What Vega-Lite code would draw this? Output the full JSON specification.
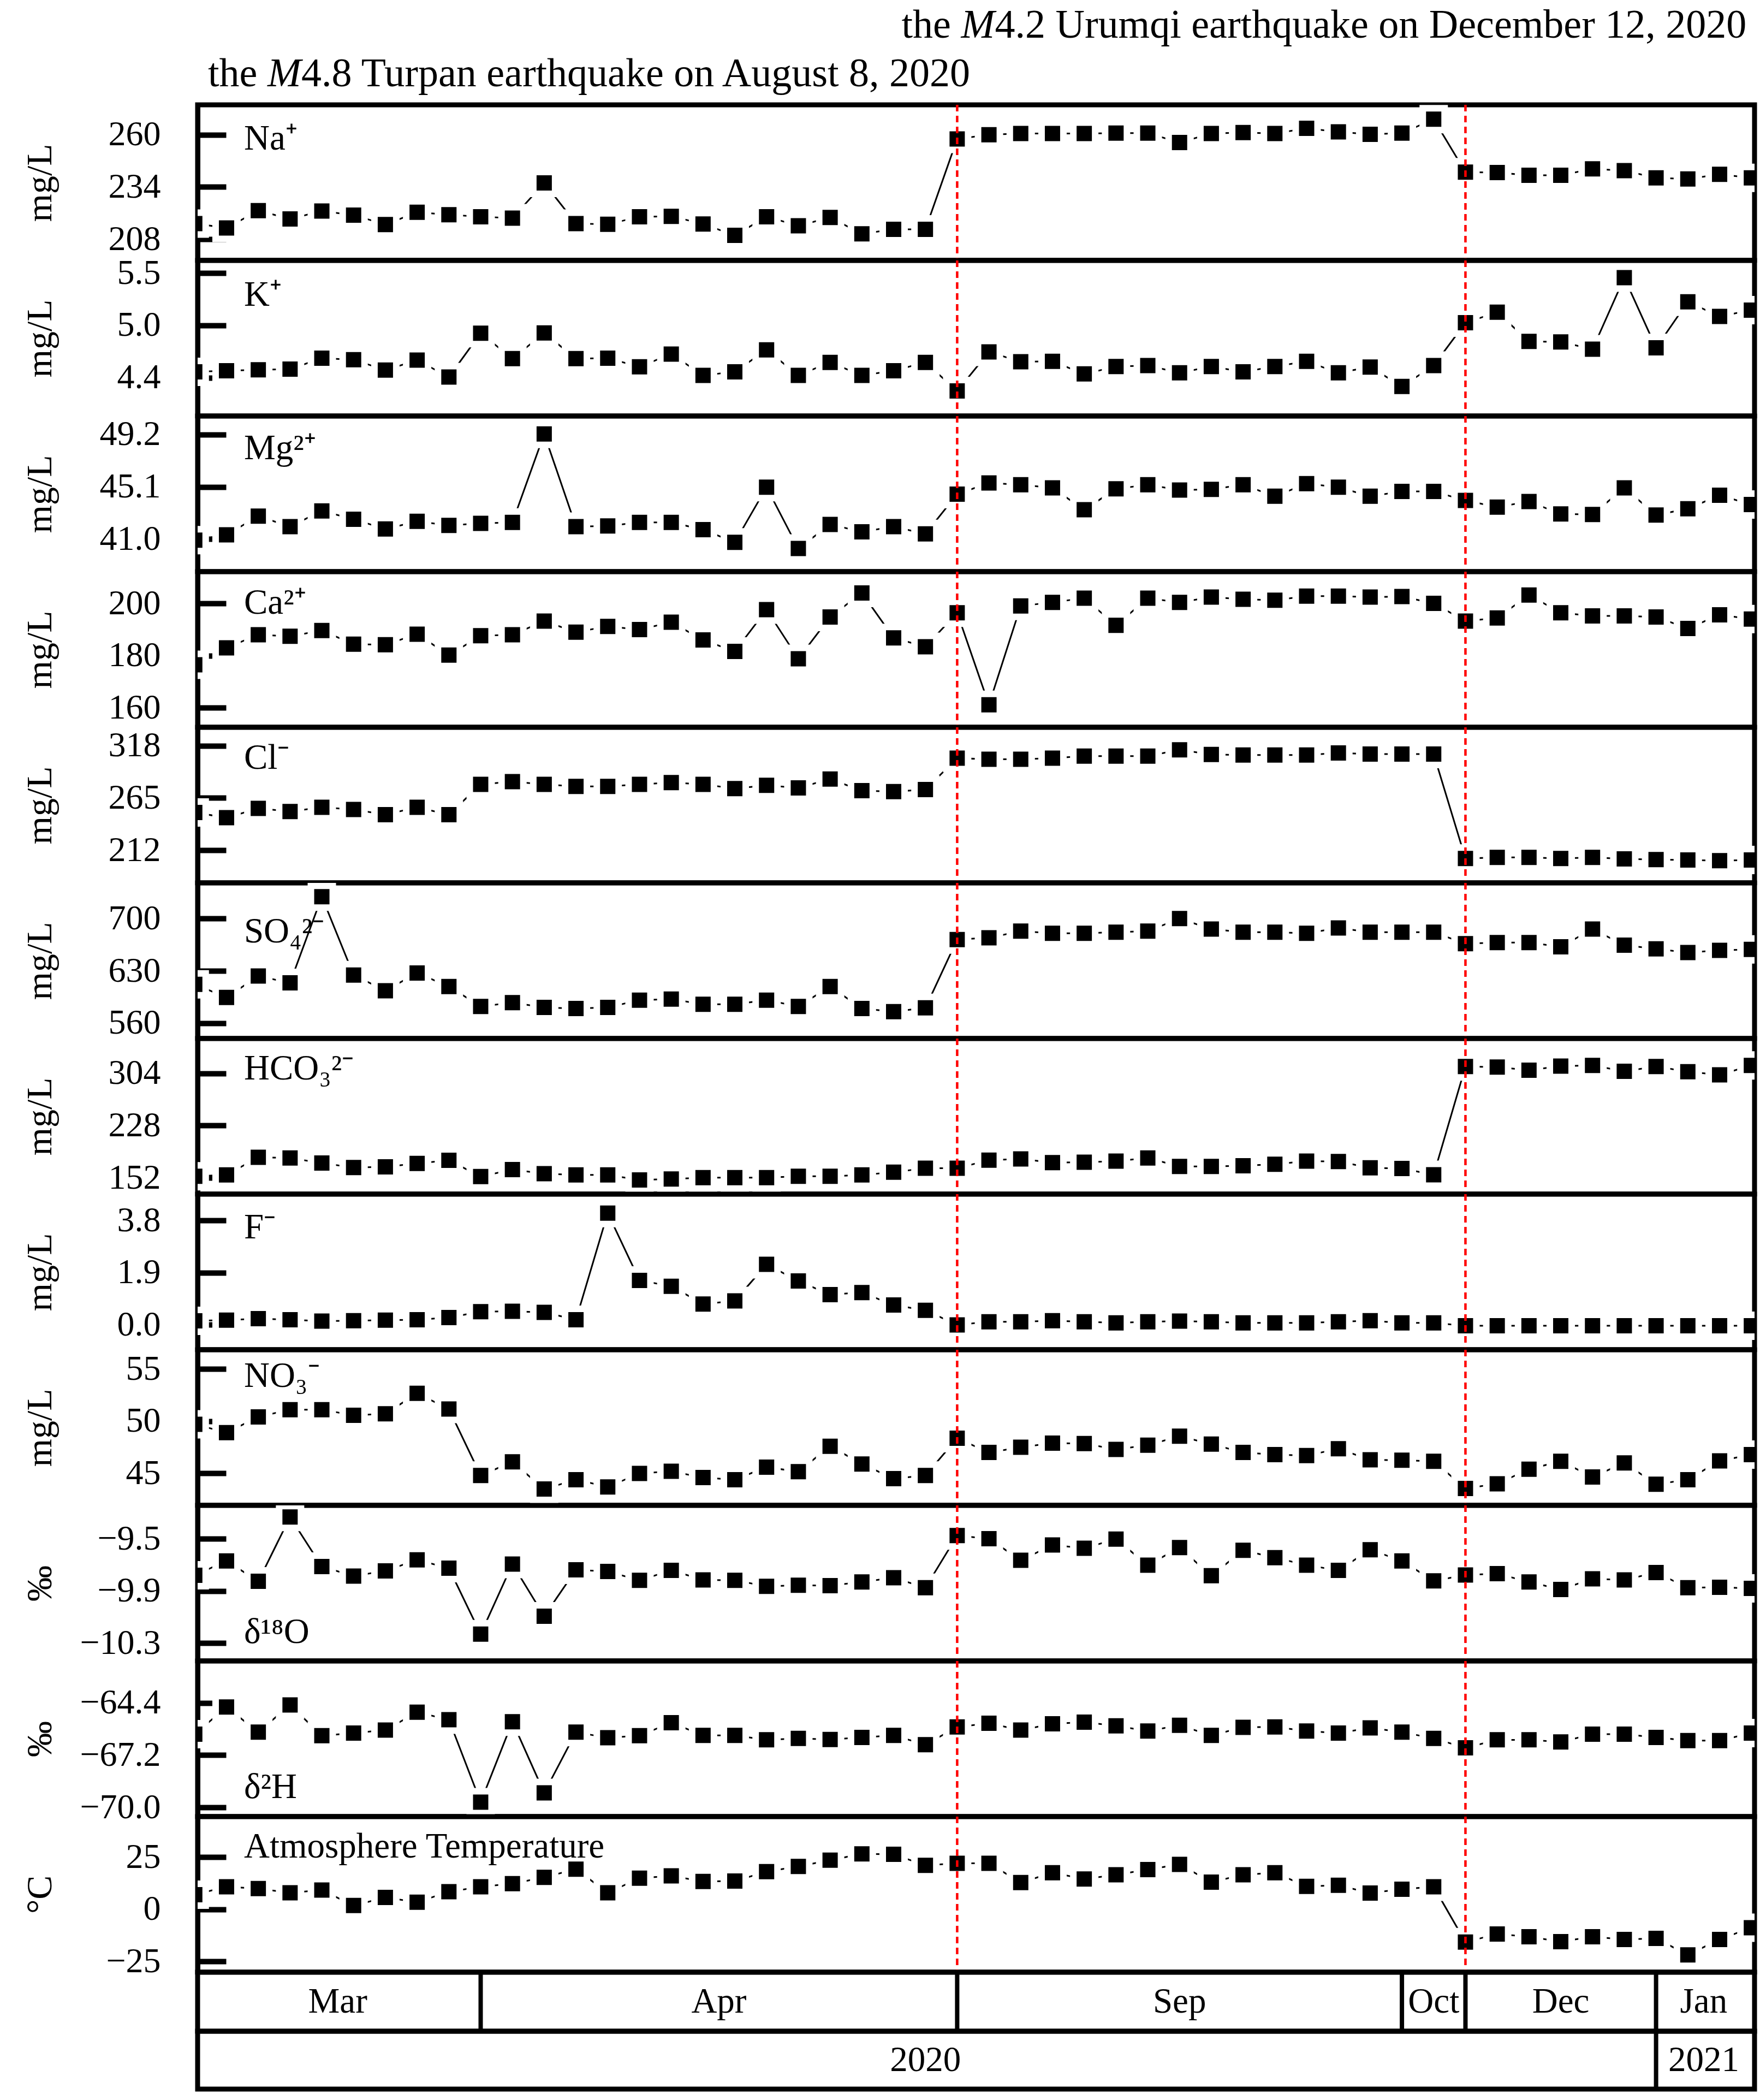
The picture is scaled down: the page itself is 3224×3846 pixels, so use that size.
{
  "$schema": "https://vega.github.io/schema/vega-lite/v6.json",
  "background": "white",
  "padding": {"left": 36, "top": 5, "right": 5, "bottom": 5},
  "spacing": 0,
  "bounds": "flush",
  "config": {
    "view": {"stroke": "black", "strokeWidth": 9},
    "font": "Liberation Serif",
    "text": {"font": "Liberation Serif", "color": "black"},
    "axisY": {
      "labelFont": "Liberation Serif", "labelFontSize": 64, "labelColor": "black",
      "titleFont": "Liberation Serif", "titleFontSize": 66, "titleFontWeight": "normal", "titleColor": "black",
      "tickColor": "black", "tickWidth": 10, "tickSize": -52, "labelPadding": 120,
      "domain": true, "domainColor": "black", "domainWidth": 9, "grid": false, "zindex": 1,
      "titleX": -288.5, "titleBaseline": "middle", "labelFlush": false, "labelOverlap": false
    }
  },
  "datasets": {
    "d": [
      {"i":0,"Na":215.8,"K":4.483,"Mg":40.92,"Ca":176.5,"Cl":250.2,"SO4":612.0,"HCO3":154.3,"F":0.15,"NO3":49.7,"O18":-9.78,"H2":-66.08,"T":7.0},
      {"i":1,"Na":213.6,"K":4.494,"Mg":41.33,"Ca":183.0,"Cl":244.9,"SO4":594.4,"HCO3":156.3,"F":0.175,"NO3":48.9,"O18":-9.67,"H2":-64.62,"T":10.8},
      {"i":2,"Na":222.2,"K":4.505,"Mg":42.8,"Ca":188.0,"Cl":254.4,"SO4":623.0,"HCO3":182.0,"F":0.228,"NO3":50.4,"O18":-9.826,"H2":-65.97,"T":9.9},
      {"i":3,"Na":218.1,"K":4.512,"Mg":41.98,"Ca":187.4,"Cl":251.2,"SO4":614.0,"HCO3":181.0,"F":0.19,"NO3":51.1,"O18":-9.334,"H2":-64.51,"T":7.9},
      {"i":4,"Na":222.0,"K":4.628,"Mg":43.21,"Ca":189.6,"Cl":255.5,"SO4":729.4,"HCO3":173.5,"F":0.137,"NO3":51.1,"O18":-9.713,"H2":-66.16,"T":9.2},
      {"i":5,"Na":220.0,"K":4.613,"Mg":42.56,"Ca":184.4,"Cl":253.3,"SO4":624.4,"HCO3":167.0,"F":0.152,"NO3":50.56,"O18":-9.786,"H2":-66.02,"T":1.8},
      {"i":6,"Na":215.3,"K":4.501,"Mg":41.79,"Ca":184.2,"Cl":248.0,"SO4":603.4,"HCO3":168.0,"F":0.175,"NO3":50.7,"O18":-9.746,"H2":-65.86,"T":5.7},
      {"i":7,"Na":221.4,"K":4.608,"Mg":42.39,"Ca":188.2,"Cl":255.5,"SO4":627.2,"HCO3":173.0,"F":0.19,"NO3":52.66,"O18":-9.662,"H2":-64.9,"T":3.4},
      {"i":8,"Na":220.2,"K":4.427,"Mg":42.07,"Ca":180.2,"Cl":248.0,"SO4":609.0,"HCO3":177.5,"F":0.266,"NO3":51.16,"O18":-9.726,"H2":-65.3,"T":8.4},
      {"i":9,"Na":219.2,"K":4.897,"Mg":42.23,"Ca":187.6,"Cl":278.8,"SO4":582.4,"HCO3":154.0,"F":0.479,"NO3":44.8,"O18":-10.23,"H2":-69.72,"T":10.8},
      {"i":10,"Na":218.5,"K":4.624,"Mg":42.31,"Ca":188.0,"Cl":281.5,"SO4":587.4,"HCO3":164.0,"F":0.494,"NO3":46.1,"O18":-9.694,"H2":-65.41,"T":12.3},
      {"i":11,"Na":236.0,"K":4.899,"Mg":49.25,"Ca":193.2,"Cl":278.8,"SO4":581.0,"HCO3":158.2,"F":0.456,"NO3":43.5,"O18":-10.093,"H2":-69.22,"T":15.3},
      {"i":12,"Na":215.8,"K":4.624,"Mg":41.98,"Ca":189.0,"Cl":276.7,"SO4":579.6,"HCO3":156.3,"F":0.19,"NO3":44.4,"O18":-9.738,"H2":-65.97,"T":19.2},
      {"i":13,"Na":215.4,"K":4.628,"Mg":42.03,"Ca":191.2,"Cl":276.7,"SO4":581.0,"HCO3":156.3,"F":4.066,"NO3":43.7,"O18":-9.751,"H2":-66.27,"T":7.9},
      {"i":14,"Na":219.2,"K":4.537,"Mg":42.31,"Ca":190.0,"Cl":278.8,"SO4":590.8,"HCO3":149.0,"F":1.619,"NO3":45.0,"O18":-9.818,"H2":-66.16,"T":14.9},
      {"i":15,"Na":219.4,"K":4.673,"Mg":42.31,"Ca":192.8,"Cl":280.5,"SO4":592.2,"HCO3":150.4,"F":1.406,"NO3":45.2,"O18":-9.742,"H2":-65.46,"T":16.0},
      {"i":16,"Na":215.6,"K":4.445,"Mg":41.74,"Ca":186.0,"Cl":278.8,"SO4":585.2,"HCO3":152.4,"F":0.76,"NO3":44.6,"O18":-9.815,"H2":-66.14,"T":13.3},
      {"i":17,"Na":209.9,"K":4.483,"Mg":40.75,"Ca":181.6,"Cl":274.5,"SO4":585.2,"HCO3":152.4,"F":0.874,"NO3":44.4,"O18":-9.818,"H2":-66.14,"T":13.5},
      {"i":18,"Na":219.2,"K":4.718,"Mg":45.07,"Ca":197.6,"Cl":277.7,"SO4":590.8,"HCO3":152.4,"F":2.204,"NO3":45.6,"O18":-9.864,"H2":-66.38,"T":18.0},
      {"i":19,"Na":214.7,"K":4.445,"Mg":40.26,"Ca":178.8,"Cl":275.2,"SO4":582.4,"HCO3":154.3,"F":1.596,"NO3":45.16,"O18":-9.856,"H2":-66.3,"T":20.5},
      {"i":20,"Na":218.8,"K":4.584,"Mg":42.15,"Ca":194.8,"Cl":284.1,"SO4":609.0,"HCO3":154.3,"F":1.102,"NO3":47.6,"O18":-9.859,"H2":-66.36,"T":23.5},
      {"i":21,"Na":210.7,"K":4.445,"Mg":41.57,"Ca":204.0,"Cl":272.4,"SO4":579.6,"HCO3":156.3,"F":1.178,"NO3":45.9,"O18":-9.831,"H2":-66.25,"T":26.5},
      {"i":22,"Na":212.9,"K":4.494,"Mg":41.98,"Ca":186.8,"Cl":271.4,"SO4":575.4,"HCO3":160.2,"F":0.722,"NO3":44.5,"O18":-9.799,"H2":-66.14,"T":26.3},
      {"i":23,"Na":212.9,"K":4.584,"Mg":41.41,"Ca":183.4,"Cl":273.5,"SO4":580.4,"HCO3":166.0,"F":0.532,"NO3":44.8,"O18":-9.875,"H2":-66.64,"T":21.0},
      {"i":24,"Na":257.9,"K":4.277,"Mg":44.53,"Ca":196.4,"Cl":305.3,"SO4":672.0,"HCO3":166.0,"F":0.0,"NO3":48.36,"O18":-9.476,"H2":-65.69,"T":22.0},
      {"i":25,"Na":260.0,"K":4.696,"Mg":45.4,"Ca":161.2,"Cl":304.2,"SO4":674.2,"HCO3":177.8,"F":0.114,"NO3":47.0,"O18":-9.5,"H2":-65.49,"T":22.0},
      {"i":26,"Na":260.6,"K":4.59,"Mg":45.26,"Ca":199.0,"Cl":304.2,"SO4":683.2,"HCO3":179.5,"F":0.114,"NO3":47.5,"O18":-9.665,"H2":-65.86,"T":12.8},
      {"i":27,"Na":260.6,"K":4.595,"Mg":45.02,"Ca":200.4,"Cl":305.3,"SO4":680.4,"HCO3":174.2,"F":0.152,"NO3":47.9,"O18":-9.548,"H2":-65.52,"T":17.5},
      {"i":28,"Na":260.6,"K":4.46,"Mg":43.3,"Ca":202.0,"Cl":307.4,"SO4":680.4,"HCO3":174.8,"F":0.114,"NO3":47.86,"O18":-9.573,"H2":-65.43,"T":14.5},
      {"i":29,"Na":260.8,"K":4.539,"Mg":44.94,"Ca":191.6,"Cl":307.4,"SO4":681.8,"HCO3":176.3,"F":0.076,"NO3":47.3,"O18":-9.503,"H2":-65.63,"T":16.5},
      {"i":30,"Na":260.8,"K":4.55,"Mg":45.26,"Ca":202.0,"Cl":307.4,"SO4":683.2,"HCO3":181.0,"F":0.114,"NO3":47.7,"O18":-9.702,"H2":-65.91,"T":19.0},
      {"i":31,"Na":256.1,"K":4.472,"Mg":44.85,"Ca":200.4,"Cl":313.8,"SO4":700.0,"HCO3":168.7,"F":0.137,"NO3":48.56,"O18":-9.568,"H2":-65.6,"T":21.5},
      {"i":32,"Na":260.6,"K":4.539,"Mg":44.9,"Ca":202.4,"Cl":309.1,"SO4":686.0,"HCO3":168.7,"F":0.114,"NO3":47.8,"O18":-9.783,"H2":-66.14,"T":13.0},
      {"i":33,"Na":261.1,"K":4.483,"Mg":45.26,"Ca":201.6,"Cl":308.5,"SO4":681.8,"HCO3":169.6,"F":0.076,"NO3":47.0,"O18":-9.589,"H2":-65.71,"T":16.5},
      {"i":34,"Na":260.6,"K":4.539,"Mg":44.36,"Ca":201.2,"Cl":308.5,"SO4":681.8,"HCO3":171.8,"F":0.076,"NO3":46.8,"O18":-9.645,"H2":-65.69,"T":17.5},
      {"i":35,"Na":263.2,"K":4.595,"Mg":45.35,"Ca":202.8,"Cl":308.5,"SO4":680.4,"HCO3":176.3,"F":0.076,"NO3":46.7,"O18":-9.702,"H2":-65.91,"T":11.0},
      {"i":36,"Na":261.4,"K":4.472,"Mg":45.07,"Ca":202.8,"Cl":310.6,"SO4":687.4,"HCO3":175.7,"F":0.114,"NO3":47.36,"O18":-9.742,"H2":-66.02,"T":11.5},
      {"i":37,"Na":260.2,"K":4.534,"Mg":44.36,"Ca":202.4,"Cl":309.5,"SO4":681.8,"HCO3":166.6,"F":0.152,"NO3":46.3,"O18":-9.584,"H2":-65.74,"T":7.8},
      {"i":38,"Na":260.8,"K":4.326,"Mg":44.74,"Ca":202.6,"Cl":309.5,"SO4":681.8,"HCO3":165.7,"F":0.076,"NO3":46.26,"O18":-9.67,"H2":-65.97,"T":9.6},
      {"i":39,"Na":267.7,"K":4.55,"Mg":44.74,"Ca":200.0,"Cl":309.5,"SO4":681.8,"HCO3":156.5,"F":0.076,"NO3":46.16,"O18":-9.823,"H2":-66.3,"T":10.8},
      {"i":40,"Na":241.4,"K":5.009,"Mg":44.03,"Ca":193.2,"Cl":203.5,"SO4":666.4,"HCO3":314.0,"F":-0.03,"NO3":43.56,"O18":-9.778,"H2":-66.81,"T":-15.7},
      {"i":41,"Na":241.2,"K":5.121,"Mg":43.51,"Ca":194.4,"Cl":204.6,"SO4":667.8,"HCO3":313.1,"F":-0.03,"NO3":44.0,"O18":-9.767,"H2":-66.38,"T":-11.8},
      {"i":42,"Na":239.8,"K":4.808,"Mg":43.95,"Ca":203.2,"Cl":204.6,"SO4":667.8,"HCO3":308.6,"F":-0.03,"NO3":45.4,"O18":-9.831,"H2":-66.38,"T":-13.1},
      {"i":43,"Na":239.8,"K":4.803,"Mg":42.97,"Ca":196.4,"Cl":203.5,"SO4":662.2,"HCO3":314.6,"F":-0.03,"NO3":46.16,"O18":-9.888,"H2":-66.49,"T":-15.5},
      {"i":44,"Na":243.0,"K":4.725,"Mg":42.93,"Ca":195.2,"Cl":204.6,"SO4":686.0,"HCO3":315.6,"F":-0.03,"NO3":44.66,"O18":-9.807,"H2":-66.08,"T":-13.1},
      {"i":45,"Na":242.1,"K":5.491,"Mg":45.02,"Ca":195.2,"Cl":203.1,"SO4":664.4,"HCO3":307.0,"F":-0.03,"NO3":46.0,"O18":-9.815,"H2":-66.08,"T":-14.4},
      {"i":46,"Na":238.5,"K":4.74,"Mg":42.89,"Ca":194.8,"Cl":202.5,"SO4":659.4,"HCO3":314.0,"F":-0.03,"NO3":43.96,"O18":-9.759,"H2":-66.25,"T":-13.9},
      {"i":47,"Na":238.0,"K":5.233,"Mg":43.38,"Ca":190.4,"Cl":202.0,"SO4":654.6,"HCO3":306.4,"F":-0.03,"NO3":44.4,"O18":-9.875,"H2":-66.42,"T":-21.8},
      {"i":48,"Na":240.3,"K":5.076,"Mg":44.44,"Ca":195.6,"Cl":201.4,"SO4":657.4,"HCO3":301.9,"F":-0.03,"NO3":46.2,"O18":-9.872,"H2":-66.42,"T":-14.4},
      {"i":49,"Na":238.5,"K":5.144,"Mg":43.71,"Ca":194.0,"Cl":202.0,"SO4":658.8,"HCO3":315.6,"F":-0.03,"NO3":46.8,"O18":-9.88,"H2":-66.02,"T":-8.8}
    ]
  },
  "vconcat": [
    {
      "width": 2852, "height": 284.75,
      "layer": [
        {"data": {"name": "d"}, "mark": {"type": "line", "color": "black", "strokeWidth": 3, "clip": true},
         "encoding": {"x": {"field": "i", "type": "quantitative", "scale": {"domain": [0.09, 49.1], "nice": false, "zero": false}, "axis": null},
                      "y": {"field": "Na", "type": "quantitative", "scale": {"domain": [197.5, 274.86], "nice": false, "zero": false}, "axis": {"values": [208, 234, 260], "format": "d", "title": "mg/L"}}}},
        {"data": {"name": "d"}, "mark": {"type": "square", "size": 1600, "fill": "black", "color": "black", "opacity": 1, "stroke": "white", "strokeWidth": 12, "clip": true},
         "encoding": {"x": {"field": "i", "type": "quantitative", "scale": {"domain": [0.09, 49.1], "nice": false, "zero": false}, "axis": null},
                      "y": {"field": "Na", "type": "quantitative", "scale": {"domain": [197.5, 274.86], "nice": false, "zero": false}, "axis": {"values": [208, 234, 260], "format": "d", "title": "mg/L"}}}},
        {"data": {"values": [{"t": "Na⁺"}]}, "mark": {"type": "text", "align": "left", "baseline": "alphabetic", "fontSize": 65},
         "encoding": {"text": {"field": "t"}, "x": {"datum": 1.55, "type": "quantitative", "scale": {"domain": [0.09, 49.1], "nice": false, "zero": false}, "axis": null},
                      "y": {"datum": 252.6, "type": "quantitative", "scale": {"domain": [197.5, 274.86], "nice": false, "zero": false}, "axis": {"values": [208, 234, 260], "format": "d", "title": "mg/L"}}}},
        {"data": {"values": [{"t": "the"}]}, "mark": {"type": "text", "align": "left", "baseline": "alphabetic", "fontSize": 74},
         "encoding": {"text": {"field": "t"}, "x": {"datum": 0.416, "type": "quantitative", "scale": {"domain": [0.09, 49.1], "nice": false, "zero": false}, "axis": null},
                      "y": {"datum": 284.1, "type": "quantitative", "scale": {"domain": [197.5, 274.86], "nice": false, "zero": false}, "axis": {"values": [208, 234, 260], "format": "d", "title": "mg/L"}}}},
        {"data": {"values": [{"t": "M"}]}, "mark": {"type": "text", "align": "left", "baseline": "alphabetic", "fontSize": 74, "fontStyle": "italic", "dx": 109},
         "encoding": {"text": {"field": "t"}, "x": {"datum": 0.416, "type": "quantitative", "scale": {"domain": [0.09, 49.1], "nice": false, "zero": false}, "axis": null},
                      "y": {"datum": 284.1, "type": "quantitative", "scale": {"domain": [197.5, 274.86], "nice": false, "zero": false}, "axis": {"values": [208, 234, 260], "format": "d", "title": "mg/L"}}}},
        {"data": {"values": [{"t": "4.8 Turpan earthquake on August 8, 2020"}]}, "mark": {"type": "text", "align": "left", "baseline": "alphabetic", "fontSize": 74, "dx": 171},
         "encoding": {"text": {"field": "t"}, "x": {"datum": 0.416, "type": "quantitative", "scale": {"domain": [0.09, 49.1], "nice": false, "zero": false}, "axis": null},
                      "y": {"datum": 284.1, "type": "quantitative", "scale": {"domain": [197.5, 274.86], "nice": false, "zero": false}, "axis": {"values": [208, 234, 260], "format": "d", "title": "mg/L"}}}},
        {"data": {"values": [{"t": "the"}]}, "mark": {"type": "text", "align": "left", "baseline": "alphabetic", "fontSize": 74},
         "encoding": {"text": {"field": "t"}, "x": {"datum": 22.25, "type": "quantitative", "scale": {"domain": [0.09, 49.1], "nice": false, "zero": false}, "axis": null},
                      "y": {"datum": 308.3, "type": "quantitative", "scale": {"domain": [197.5, 274.86], "nice": false, "zero": false}, "axis": {"values": [208, 234, 260], "format": "d", "title": "mg/L"}}}},
        {"data": {"values": [{"t": "M"}]}, "mark": {"type": "text", "align": "left", "baseline": "alphabetic", "fontSize": 74, "fontStyle": "italic", "dx": 109},
         "encoding": {"text": {"field": "t"}, "x": {"datum": 22.25, "type": "quantitative", "scale": {"domain": [0.09, 49.1], "nice": false, "zero": false}, "axis": null},
                      "y": {"datum": 308.3, "type": "quantitative", "scale": {"domain": [197.5, 274.86], "nice": false, "zero": false}, "axis": {"values": [208, 234, 260], "format": "d", "title": "mg/L"}}}},
        {"data": {"values": [{"t": "4.2 Urumqi earthquake on December 12, 2020"}]}, "mark": {"type": "text", "align": "left", "baseline": "alphabetic", "fontSize": 74, "dx": 171},
         "encoding": {"text": {"field": "t"}, "x": {"datum": 22.25, "type": "quantitative", "scale": {"domain": [0.09, 49.1], "nice": false, "zero": false}, "axis": null},
                      "y": {"datum": 308.3, "type": "quantitative", "scale": {"domain": [197.5, 274.86], "nice": false, "zero": false}, "axis": {"values": [208, 234, 260], "format": "d", "title": "mg/L"}}}},
        {"data": {"values": [{"e": 24}, {"e": 40}]}, "mark": {"type": "rule", "color": "#ff0000", "strokeWidth": 4.5, "strokeDash": [12, 8]},
         "encoding": {"x": {"field": "e", "type": "quantitative", "scale": {"domain": [0.09, 49.1], "nice": false, "zero": false}, "axis": null}}}
      ]
    },
    {
      "width": 2852, "height": 284.75,
      "layer": [
        {"data": {"name": "d"}, "mark": {"type": "line", "color": "black", "strokeWidth": 3, "clip": true},
         "encoding": {"x": {"field": "i", "type": "quantitative", "scale": {"domain": [0.09, 49.1], "nice": false, "zero": false}, "axis": null},
                      "y": {"field": "K", "type": "quantitative", "scale": {"domain": [4.01, 5.676], "nice": false, "zero": false}, "axis": {"values": [4.42, 4.98, 5.54], "format": ".1f", "title": "mg/L"}}}},
        {"data": {"name": "d"}, "mark": {"type": "square", "size": 1600, "fill": "black", "color": "black", "opacity": 1, "stroke": "white", "strokeWidth": 12, "clip": true},
         "encoding": {"x": {"field": "i", "type": "quantitative", "scale": {"domain": [0.09, 49.1], "nice": false, "zero": false}, "axis": null},
                      "y": {"field": "K", "type": "quantitative", "scale": {"domain": [4.01, 5.676], "nice": false, "zero": false}, "axis": {"values": [4.42, 4.98, 5.54], "format": ".1f", "title": "mg/L"}}}},
        {"data": {"values": [{"t": "K⁺"}]}, "mark": {"type": "text", "align": "left", "baseline": "alphabetic", "fontSize": 65},
         "encoding": {"text": {"field": "t"}, "x": {"datum": 1.55, "type": "quantitative", "scale": {"domain": [0.09, 49.1], "nice": false, "zero": false}, "axis": null},
                      "y": {"datum": 5.193, "type": "quantitative", "scale": {"domain": [4.01, 5.676], "nice": false, "zero": false}, "axis": {"values": [4.42, 4.98, 5.54], "format": ".1f", "title": "mg/L"}}}},
        {"data": {"values": [{"e": 24}, {"e": 40}]}, "mark": {"type": "rule", "color": "#ff0000", "strokeWidth": 4.5, "strokeDash": [12, 8]},
         "encoding": {"x": {"field": "e", "type": "quantitative", "scale": {"domain": [0.09, 49.1], "nice": false, "zero": false}, "axis": null}}}
      ]
    },
    {
      "width": 2852, "height": 284.75,
      "layer": [
        {"data": {"name": "d"}, "mark": {"type": "line", "color": "black", "strokeWidth": 3, "clip": true},
         "encoding": {"x": {"field": "i", "type": "quantitative", "scale": {"domain": [0.09, 49.1], "nice": false, "zero": false}, "axis": null},
                      "y": {"field": "Mg", "type": "quantitative", "scale": {"domain": [38.453, 50.652], "nice": false, "zero": false}, "axis": {"values": [41.0, 45.1, 49.2], "format": ".1f", "title": "mg/L"}}}},
        {"data": {"name": "d"}, "mark": {"type": "square", "size": 1600, "fill": "black", "color": "black", "opacity": 1, "stroke": "white", "strokeWidth": 12, "clip": true},
         "encoding": {"x": {"field": "i", "type": "quantitative", "scale": {"domain": [0.09, 49.1], "nice": false, "zero": false}, "axis": null},
                      "y": {"field": "Mg", "type": "quantitative", "scale": {"domain": [38.453, 50.652], "nice": false, "zero": false}, "axis": {"values": [41.0, 45.1, 49.2], "format": ".1f", "title": "mg/L"}}}},
        {"data": {"values": [{"t": "Mg²⁺"}]}, "mark": {"type": "text", "align": "left", "baseline": "alphabetic", "fontSize": 65},
         "encoding": {"text": {"field": "t"}, "x": {"datum": 1.55, "type": "quantitative", "scale": {"domain": [0.09, 49.1], "nice": false, "zero": false}, "axis": null},
                      "y": {"datum": 47.25, "type": "quantitative", "scale": {"domain": [38.453, 50.652], "nice": false, "zero": false}, "axis": {"values": [41.0, 45.1, 49.2], "format": ".1f", "title": "mg/L"}}}},
        {"data": {"values": [{"e": 24}, {"e": 40}]}, "mark": {"type": "rule", "color": "#ff0000", "strokeWidth": 4.5, "strokeDash": [12, 8]},
         "encoding": {"x": {"field": "e", "type": "quantitative", "scale": {"domain": [0.09, 49.1], "nice": false, "zero": false}, "axis": null}}}
      ]
    },
    {
      "width": 2852, "height": 284.75,
      "layer": [
        {"data": {"name": "d"}, "mark": {"type": "line", "color": "black", "strokeWidth": 3, "clip": true},
         "encoding": {"x": {"field": "i", "type": "quantitative", "scale": {"domain": [0.09, 49.1], "nice": false, "zero": false}, "axis": null},
                      "y": {"field": "Ca", "type": "quantitative", "scale": {"domain": [152.62, 212.13], "nice": false, "zero": false}, "axis": {"values": [160, 180, 200], "format": "d", "title": "mg/L"}}}},
        {"data": {"name": "d"}, "mark": {"type": "square", "size": 1600, "fill": "black", "color": "black", "opacity": 1, "stroke": "white", "strokeWidth": 12, "clip": true},
         "encoding": {"x": {"field": "i", "type": "quantitative", "scale": {"domain": [0.09, 49.1], "nice": false, "zero": false}, "axis": null},
                      "y": {"field": "Ca", "type": "quantitative", "scale": {"domain": [152.62, 212.13], "nice": false, "zero": false}, "axis": {"values": [160, 180, 200], "format": "d", "title": "mg/L"}}}},
        {"data": {"values": [{"t": "Ca²⁺"}]}, "mark": {"type": "text", "align": "left", "baseline": "alphabetic", "fontSize": 65},
         "encoding": {"text": {"field": "t"}, "x": {"datum": 1.55, "type": "quantitative", "scale": {"domain": [0.09, 49.1], "nice": false, "zero": false}, "axis": null},
                      "y": {"datum": 196.0, "type": "quantitative", "scale": {"domain": [152.62, 212.13], "nice": false, "zero": false}, "axis": {"values": [160, 180, 200], "format": "d", "title": "mg/L"}}}},
        {"data": {"values": [{"e": 24}, {"e": 40}]}, "mark": {"type": "rule", "color": "#ff0000", "strokeWidth": 4.5, "strokeDash": [12, 8]},
         "encoding": {"x": {"field": "e", "type": "quantitative", "scale": {"domain": [0.09, 49.1], "nice": false, "zero": false}, "axis": null}}}
      ]
    },
    {
      "width": 2852, "height": 284.75,
      "layer": [
        {"data": {"name": "d"}, "mark": {"type": "line", "color": "black", "strokeWidth": 3, "clip": true},
         "encoding": {"x": {"field": "i", "type": "quantitative", "scale": {"domain": [0.09, 49.1], "nice": false, "zero": false}, "axis": null},
                      "y": {"field": "Cl", "type": "quantitative", "scale": {"domain": [178.91, 336.61], "nice": false, "zero": false}, "axis": {"values": [212, 265, 318], "format": "d", "title": "mg/L"}}}},
        {"data": {"name": "d"}, "mark": {"type": "square", "size": 1600, "fill": "black", "color": "black", "opacity": 1, "stroke": "white", "strokeWidth": 12, "clip": true},
         "encoding": {"x": {"field": "i", "type": "quantitative", "scale": {"domain": [0.09, 49.1], "nice": false, "zero": false}, "axis": null},
                      "y": {"field": "Cl", "type": "quantitative", "scale": {"domain": [178.91, 336.61], "nice": false, "zero": false}, "axis": {"values": [212, 265, 318], "format": "d", "title": "mg/L"}}}},
        {"data": {"values": [{"t": "Cl⁻"}]}, "mark": {"type": "text", "align": "left", "baseline": "alphabetic", "fontSize": 65},
         "encoding": {"text": {"field": "t"}, "x": {"datum": 1.55, "type": "quantitative", "scale": {"domain": [0.09, 49.1], "nice": false, "zero": false}, "axis": null},
                      "y": {"datum": 294.3, "type": "quantitative", "scale": {"domain": [178.91, 336.61], "nice": false, "zero": false}, "axis": {"values": [212, 265, 318], "format": "d", "title": "mg/L"}}}},
        {"data": {"values": [{"e": 24}, {"e": 40}]}, "mark": {"type": "rule", "color": "#ff0000", "strokeWidth": 4.5, "strokeDash": [12, 8]},
         "encoding": {"x": {"field": "e", "type": "quantitative", "scale": {"domain": [0.09, 49.1], "nice": false, "zero": false}, "axis": null}}}
      ]
    },
    {
      "width": 2852, "height": 284.75,
      "layer": [
        {"data": {"name": "d"}, "mark": {"type": "line", "color": "black", "strokeWidth": 3, "clip": true},
         "encoding": {"x": {"field": "i", "type": "quantitative", "scale": {"domain": [0.09, 49.1], "nice": false, "zero": false}, "axis": null},
                      "y": {"field": "SO4", "type": "quantitative", "scale": {"domain": [539.52, 747.8], "nice": false, "zero": false}, "axis": {"values": [560, 630, 700], "format": "d", "title": "mg/L"}}}},
        {"data": {"name": "d"}, "mark": {"type": "square", "size": 1600, "fill": "black", "color": "black", "opacity": 1, "stroke": "white", "strokeWidth": 12, "clip": true},
         "encoding": {"x": {"field": "i", "type": "quantitative", "scale": {"domain": [0.09, 49.1], "nice": false, "zero": false}, "axis": null},
                      "y": {"field": "SO4", "type": "quantitative", "scale": {"domain": [539.52, 747.8], "nice": false, "zero": false}, "axis": {"values": [560, 630, 700], "format": "d", "title": "mg/L"}}}},
        {"data": {"values": [{"t": "SO₄²⁻"}]}, "mark": {"type": "text", "align": "left", "baseline": "alphabetic", "fontSize": 65},
         "encoding": {"text": {"field": "t"}, "x": {"datum": 1.55, "type": "quantitative", "scale": {"domain": [0.09, 49.1], "nice": false, "zero": false}, "axis": null},
                      "y": {"datum": 667.9, "type": "quantitative", "scale": {"domain": [539.52, 747.8], "nice": false, "zero": false}, "axis": {"values": [560, 630, 700], "format": "d", "title": "mg/L"}}}},
        {"data": {"values": [{"e": 24}, {"e": 40}]}, "mark": {"type": "rule", "color": "#ff0000", "strokeWidth": 4.5, "strokeDash": [12, 8]},
         "encoding": {"x": {"field": "e", "type": "quantitative", "scale": {"domain": [0.09, 49.1], "nice": false, "zero": false}, "axis": null}}}
      ]
    },
    {
      "width": 2852, "height": 284.75,
      "layer": [
        {"data": {"name": "d"}, "mark": {"type": "line", "color": "black", "strokeWidth": 3, "clip": true},
         "encoding": {"x": {"field": "i", "type": "quantitative", "scale": {"domain": [0.09, 49.1], "nice": false, "zero": false}, "axis": null},
                      "y": {"field": "HCO3", "type": "quantitative", "scale": {"domain": [128.53, 354.67], "nice": false, "zero": false}, "axis": {"values": [152, 228, 304], "format": "d", "title": "mg/L"}}}},
        {"data": {"name": "d"}, "mark": {"type": "square", "size": 1600, "fill": "black", "color": "black", "opacity": 1, "stroke": "white", "strokeWidth": 12, "clip": true},
         "encoding": {"x": {"field": "i", "type": "quantitative", "scale": {"domain": [0.09, 49.1], "nice": false, "zero": false}, "axis": null},
                      "y": {"field": "HCO3", "type": "quantitative", "scale": {"domain": [128.53, 354.67], "nice": false, "zero": false}, "axis": {"values": [152, 228, 304], "format": "d", "title": "mg/L"}}}},
        {"data": {"values": [{"t": "HCO₃²⁻"}]}, "mark": {"type": "text", "align": "left", "baseline": "alphabetic", "fontSize": 65},
         "encoding": {"text": {"field": "t"}, "x": {"datum": 1.55, "type": "quantitative", "scale": {"domain": [0.09, 49.1], "nice": false, "zero": false}, "axis": null},
                      "y": {"datum": 294.9, "type": "quantitative", "scale": {"domain": [128.53, 354.67], "nice": false, "zero": false}, "axis": {"values": [152, 228, 304], "format": "d", "title": "mg/L"}}}},
        {"data": {"values": [{"e": 24}, {"e": 40}]}, "mark": {"type": "rule", "color": "#ff0000", "strokeWidth": 4.5, "strokeDash": [12, 8]},
         "encoding": {"x": {"field": "e", "type": "quantitative", "scale": {"domain": [0.09, 49.1], "nice": false, "zero": false}, "axis": null}}}
      ]
    },
    {
      "width": 2852, "height": 284.75,
      "layer": [
        {"data": {"name": "d"}, "mark": {"type": "line", "color": "black", "strokeWidth": 3, "clip": true},
         "encoding": {"x": {"field": "i", "type": "quantitative", "scale": {"domain": [0.09, 49.1], "nice": false, "zero": false}, "axis": null},
                      "y": {"field": "F", "type": "quantitative", "scale": {"domain": [-0.899, 4.754], "nice": false, "zero": false}, "axis": {"values": [0, 1.9, 3.8], "format": ".1f", "title": "mg/L"}}}},
        {"data": {"name": "d"}, "mark": {"type": "square", "size": 1600, "fill": "black", "color": "black", "opacity": 1, "stroke": "white", "strokeWidth": 12, "clip": true},
         "encoding": {"x": {"field": "i", "type": "quantitative", "scale": {"domain": [0.09, 49.1], "nice": false, "zero": false}, "axis": null},
                      "y": {"field": "F", "type": "quantitative", "scale": {"domain": [-0.899, 4.754], "nice": false, "zero": false}, "axis": {"values": [0, 1.9, 3.8], "format": ".1f", "title": "mg/L"}}}},
        {"data": {"values": [{"t": "F⁻"}]}, "mark": {"type": "text", "align": "left", "baseline": "alphabetic", "fontSize": 65},
         "encoding": {"text": {"field": "t"}, "x": {"datum": 1.55, "type": "quantitative", "scale": {"domain": [0.09, 49.1], "nice": false, "zero": false}, "axis": null},
                      "y": {"datum": 3.155, "type": "quantitative", "scale": {"domain": [-0.899, 4.754], "nice": false, "zero": false}, "axis": {"values": [0, 1.9, 3.8], "format": ".1f", "title": "mg/L"}}}},
        {"data": {"values": [{"e": 24}, {"e": 40}]}, "mark": {"type": "rule", "color": "#ff0000", "strokeWidth": 4.5, "strokeDash": [12, 8]},
         "encoding": {"x": {"field": "e", "type": "quantitative", "scale": {"domain": [0.09, 49.1], "nice": false, "zero": false}, "axis": null}}}
      ]
    },
    {
      "width": 2852, "height": 284.75,
      "layer": [
        {"data": {"name": "d"}, "mark": {"type": "line", "color": "black", "strokeWidth": 3, "clip": true},
         "encoding": {"x": {"field": "i", "type": "quantitative", "scale": {"domain": [0.09, 49.1], "nice": false, "zero": false}, "axis": null},
                      "y": {"field": "NO3", "type": "quantitative", "scale": {"domain": [41.951, 56.829], "nice": false, "zero": false}, "axis": {"values": [45, 50, 55], "format": "d", "title": "mg/L"}}}},
        {"data": {"name": "d"}, "mark": {"type": "square", "size": 1600, "fill": "black", "color": "black", "opacity": 1, "stroke": "white", "strokeWidth": 12, "clip": true},
         "encoding": {"x": {"field": "i", "type": "quantitative", "scale": {"domain": [0.09, 49.1], "nice": false, "zero": false}, "axis": null},
                      "y": {"field": "NO3", "type": "quantitative", "scale": {"domain": [41.951, 56.829], "nice": false, "zero": false}, "axis": {"values": [45, 50, 55], "format": "d", "title": "mg/L"}}}},
        {"data": {"values": [{"t": "NO₃⁻"}]}, "mark": {"type": "text", "align": "left", "baseline": "alphabetic", "fontSize": 65},
         "encoding": {"text": {"field": "t"}, "x": {"datum": 1.55, "type": "quantitative", "scale": {"domain": [0.09, 49.1], "nice": false, "zero": false}, "axis": null},
                      "y": {"datum": 53.3, "type": "quantitative", "scale": {"domain": [41.951, 56.829], "nice": false, "zero": false}, "axis": {"values": [45, 50, 55], "format": "d", "title": "mg/L"}}}},
        {"data": {"values": [{"e": 24}, {"e": 40}]}, "mark": {"type": "rule", "color": "#ff0000", "strokeWidth": 4.5, "strokeDash": [12, 8]},
         "encoding": {"x": {"field": "e", "type": "quantitative", "scale": {"domain": [0.09, 49.1], "nice": false, "zero": false}, "axis": null}}}
      ]
    },
    {
      "width": 2852, "height": 284.75,
      "layer": [
        {"data": {"name": "d"}, "mark": {"type": "line", "color": "black", "strokeWidth": 3, "clip": true},
         "encoding": {"x": {"field": "i", "type": "quantitative", "scale": {"domain": [0.09, 49.1], "nice": false, "zero": false}, "axis": null},
                      "y": {"field": "O18", "type": "quantitative", "scale": {"domain": [-10.435, -9.2448], "nice": false, "zero": false}, "axis": {"values": [-10.3, -9.9, -9.5], "format": ".1f", "title": "‰"}}}},
        {"data": {"name": "d"}, "mark": {"type": "square", "size": 1600, "fill": "black", "color": "black", "opacity": 1, "stroke": "white", "strokeWidth": 12, "clip": true},
         "encoding": {"x": {"field": "i", "type": "quantitative", "scale": {"domain": [0.09, 49.1], "nice": false, "zero": false}, "axis": null},
                      "y": {"field": "O18", "type": "quantitative", "scale": {"domain": [-10.435, -9.2448], "nice": false, "zero": false}, "axis": {"values": [-10.3, -9.9, -9.5], "format": ".1f", "title": "‰"}}}},
        {"data": {"values": [{"t": "δ¹⁸O"}]}, "mark": {"type": "text", "align": "left", "baseline": "alphabetic", "fontSize": 65},
         "encoding": {"text": {"field": "t"}, "x": {"datum": 1.55, "type": "quantitative", "scale": {"domain": [0.09, 49.1], "nice": false, "zero": false}, "axis": null},
                      "y": {"datum": -10.3, "type": "quantitative", "scale": {"domain": [-10.435, -9.2448], "nice": false, "zero": false}, "axis": {"values": [-10.3, -9.9, -9.5], "format": ".1f", "title": "‰"}}}},
        {"data": {"values": [{"e": 24}, {"e": 40}]}, "mark": {"type": "rule", "color": "#ff0000", "strokeWidth": 4.5, "strokeDash": [12, 8]},
         "encoding": {"x": {"field": "e", "type": "quantitative", "scale": {"domain": [0.09, 49.1], "nice": false, "zero": false}, "axis": null}}}
      ]
    },
    {
      "width": 2852, "height": 284.75,
      "layer": [
        {"data": {"name": "d"}, "mark": {"type": "line", "color": "black", "strokeWidth": 3, "clip": true},
         "encoding": {"x": {"field": "i", "type": "quantitative", "scale": {"domain": [0.09, 49.1], "nice": false, "zero": false}, "axis": null},
                      "y": {"field": "H2", "type": "quantitative", "scale": {"domain": [-70.487, -62.156], "nice": false, "zero": false}, "axis": {"values": [-70, -67.2, -64.4], "format": ".1f", "title": "‰"}}}},
        {"data": {"name": "d"}, "mark": {"type": "square", "size": 1600, "fill": "black", "color": "black", "opacity": 1, "stroke": "white", "strokeWidth": 12, "clip": true},
         "encoding": {"x": {"field": "i", "type": "quantitative", "scale": {"domain": [0.09, 49.1], "nice": false, "zero": false}, "axis": null},
                      "y": {"field": "H2", "type": "quantitative", "scale": {"domain": [-70.487, -62.156], "nice": false, "zero": false}, "axis": {"values": [-70, -67.2, -64.4], "format": ".1f", "title": "‰"}}}},
        {"data": {"values": [{"t": "δ²H"}]}, "mark": {"type": "text", "align": "left", "baseline": "alphabetic", "fontSize": 65},
         "encoding": {"text": {"field": "t"}, "x": {"datum": 1.55, "type": "quantitative", "scale": {"domain": [0.09, 49.1], "nice": false, "zero": false}, "axis": null},
                      "y": {"datum": -69.5, "type": "quantitative", "scale": {"domain": [-70.487, -62.156], "nice": false, "zero": false}, "axis": {"values": [-70, -67.2, -64.4], "format": ".1f", "title": "‰"}}}},
        {"data": {"values": [{"e": 24}, {"e": 40}]}, "mark": {"type": "rule", "color": "#ff0000", "strokeWidth": 4.5, "strokeDash": [12, 8]},
         "encoding": {"x": {"field": "e", "type": "quantitative", "scale": {"domain": [0.09, 49.1], "nice": false, "zero": false}, "axis": null}}}
      ]
    },
    {
      "width": 2852, "height": 284.75,
      "layer": [
        {"data": {"name": "d"}, "mark": {"type": "line", "color": "black", "strokeWidth": 3, "clip": true},
         "encoding": {"x": {"field": "i", "type": "quantitative", "scale": {"domain": [0.09, 49.1], "nice": false, "zero": false}, "axis": null},
                      "y": {"field": "T", "type": "quantitative", "scale": {"domain": [-30.04, 44.34], "nice": false, "zero": false}, "axis": {"values": [-25, 0, 25], "format": "d", "title": "°C"}}}},
        {"data": {"name": "d"}, "mark": {"type": "square", "size": 1600, "fill": "black", "color": "black", "opacity": 1, "stroke": "white", "strokeWidth": 12, "clip": true},
         "encoding": {"x": {"field": "i", "type": "quantitative", "scale": {"domain": [0.09, 49.1], "nice": false, "zero": false}, "axis": null},
                      "y": {"field": "T", "type": "quantitative", "scale": {"domain": [-30.04, 44.34], "nice": false, "zero": false}, "axis": {"values": [-25, 0, 25], "format": "d", "title": "°C"}}}},
        {"data": {"values": [{"t": "Atmosphere Temperature"}]}, "mark": {"type": "text", "align": "left", "baseline": "alphabetic", "fontSize": 65},
         "encoding": {"text": {"field": "t"}, "x": {"datum": 1.55, "type": "quantitative", "scale": {"domain": [0.09, 49.1], "nice": false, "zero": false}, "axis": null},
                      "y": {"datum": 24.8, "type": "quantitative", "scale": {"domain": [-30.04, 44.34], "nice": false, "zero": false}, "axis": {"values": [-25, 0, 25], "format": "d", "title": "°C"}}}},
        {"data": {"values": [{"e": 24}, {"e": 40}]}, "mark": {"type": "rule", "color": "#ff0000", "strokeWidth": 4.5, "strokeDash": [12, 8]},
         "encoding": {"x": {"field": "e", "type": "quantitative", "scale": {"domain": [0.09, 49.1], "nice": false, "zero": false}, "axis": null}}}
      ]
    },
    {
      "width": 2852, "height": 108,
      "layer": [
        {"data": {"values": [{"b": 9}, {"b": 24}, {"b": 38}, {"b": 40}, {"b": 46}]}, "mark": {"type": "rule", "color": "black", "strokeWidth": 8},
         "encoding": {"x": {"field": "b", "type": "quantitative", "scale": {"domain": [0.09, 49.1], "nice": false, "zero": false}, "axis": null}}},
        {"data": {"values": [{"m": "Mar", "c": 4.5}, {"m": "Apr", "c": 16.5}, {"m": "Sep", "c": 31}, {"m": "Oct", "c": 39}, {"m": "Dec", "c": 43}, {"m": "Jan", "c": 47.5}]},
         "mark": {"type": "text", "align": "center", "baseline": "middle", "fontSize": 65},
         "encoding": {"text": {"field": "m"}, "x": {"field": "c", "type": "quantitative", "scale": {"domain": [0.09, 49.1], "nice": false, "zero": false}, "axis": null}}}
      ]
    },
    {
      "width": 2852, "height": 106,
      "layer": [
        {"data": {"values": [{"b": 46}]}, "mark": {"type": "rule", "color": "black", "strokeWidth": 8},
         "encoding": {"x": {"field": "b", "type": "quantitative", "scale": {"domain": [0.09, 49.1], "nice": false, "zero": false}, "axis": null}}},
        {"data": {"values": [{"y": "2020", "c": 23}, {"y": "2021", "c": 47.5}]},
         "mark": {"type": "text", "align": "center", "baseline": "middle", "fontSize": 65},
         "encoding": {"text": {"field": "y"}, "x": {"field": "c", "type": "quantitative", "scale": {"domain": [0.09, 49.1], "nice": false, "zero": false}, "axis": null}}}
      ]
    }
  ]
}
